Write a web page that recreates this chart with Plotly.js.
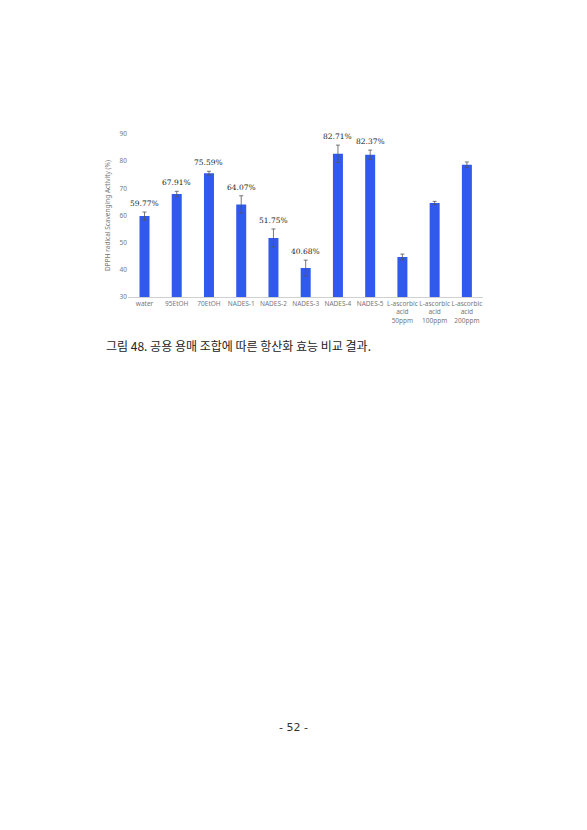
<!DOCTYPE html>
<html>
<head>
<meta charset="utf-8">
<script src="https://cdn.plot.ly/plotly-3.0.1.min.js"></script>
<style>
  html, body { margin: 0; padding: 0; background: #fff; }
  #grafica { width: 587px; height: 830px; }
</style>
</head>
<body>
<div id="grafica"></div>
<script>
const categorias = [
  'water', '95EtOH', '70EtOH', 'NADES-1', 'NADES-2', 'NADES-3',
  'NADES-4', 'NADES-5',
  'L-ascorbic<br>acid<br>50ppm', 'L-ascorbic<br>acid<br>100ppm', 'L-ascorbic<br>acid<br>200ppm'
];
const actividad = [59.77, 67.91, 75.59, 64.07, 51.75, 40.68, 82.71, 82.37, 44.7, 64.6, 78.7];
const errores = [1.5, 1.0, 0.7, 3.2, 3.3, 2.9, 3.2, 1.7, 1.1, 0.6, 1.0];
const etiquetas = ['59.77%', '67.91%', '75.59%', '64.07%', '51.75%', '40.68%', '82.71%', '82.37%', '', '', ''];

const yTicks = [30, 40, 50, 60, 70, 80, 90];

const trazaBarras = {
  x: categorias,
  y: actividad,
  type: 'bar',
  marker: { color: '#3059EE' },
  error_y: {
    type: 'data',
    array: errores,
    visible: true,
    color: '#555',
    thickness: 0.8,
    width: 2
  },
  hoverinfo: 'none'
};

// page pixels -> paper coordinates
const M = { l: 128, r: 104, t: 134, b: 533 };
const pxX = v => (v - M.l) / (587 - M.l - M.r);
const pxY = v => (830 - M.b - v) / (830 - M.b - M.t);

const anotaciones = categorias
  .map((c, i) => ({ c, i }))
  .filter(d => etiquetas[d.i] !== '')
  .map(d => ({
    x: d.c,
    y: actividad[d.i] + errores[d.i],
    xref: 'x',
    yref: 'y',
    text: etiquetas[d.i],
    showarrow: false,
    yanchor: 'bottom',
    yshift: 2,
    font: { family: 'DejaVu Serif, serif', size: 7.5, color: '#222' }
  }));

anotaciones.push({
  x: pxX(104), y: pxY(345),
  xref: 'paper', yref: 'paper',
  xanchor: 'left', yanchor: 'middle',
  text: '그림 48. 공용 용매 조합에 따른 항산화 효능 비교 결과.',
  showarrow: false,
  font: { family: 'Noto Sans CJK KR, sans-serif', size: 12, color: '#222' }
});
anotaciones.push({
  x: pxX(293), y: pxY(727),
  xref: 'paper', yref: 'paper',
  xanchor: 'center', yanchor: 'middle',
  text: '- 52 -',
  showarrow: false,
  font: { family: 'DejaVu Sans, sans-serif', size: 11, color: '#333' }
});

const layout = {
  width: 587,
  height: 830,
  paper_bgcolor: '#fff',
  plot_bgcolor: '#fff',
  showlegend: false,
  bargap: 0.69,
  margin: M,
  font: { family: 'Noto Sans, sans-serif', color: '#777' },
  xaxis: {
    type: 'category',
    tickangle: 0,
    tickfont: { size: 6.5, color: '#777' },
    showline: true,
    linecolor: '#d0d0d0',
    linewidth: 1,
    ticks: '',
    fixedrange: true
  },
  yaxis: {
    range: [30, 90],
    tickvals: yTicks,
    tickfont: { size: 6.5, color: '#777' },
    showgrid: false,
    zeroline: false,
    showline: false,
    ticks: '',
    title: {
      text: 'DPPH radical Scavenging Activity (%)',
      font: { size: 6.5, color: '#777' },
      standoff: 8
    }
  },
  annotations: anotaciones
};

Plotly.newPlot('grafica', [trazaBarras], layout, { displayModeBar: false, staticPlot: true });
</script>
</body>
</html>
